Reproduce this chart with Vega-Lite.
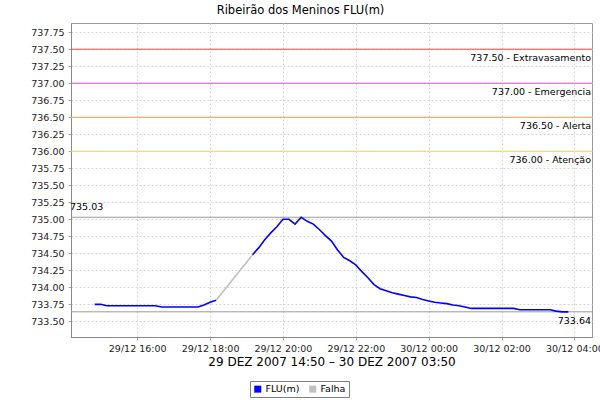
{
  "$schema": "https://vega.github.io/schema/vega-lite/v6.json",
  "width": 521,
  "height": 314,
  "autosize": "none",
  "padding": {"left": 71, "top": 23, "right": 8, "bottom": 63},
  "background": "white",
  "title": {"text": "Ribeirão dos Meninos FLU(m)", "font": "DejaVu Sans", "fontSize": 11.5, "fontWeight": "normal", "color": "#000000", "anchor": "middle", "dx": -31, "offset": 7},
  "config": {
    "view": {"stroke": "#9a9a9a", "strokeWidth": 1},
    "font": "DejaVu Sans",
    "axis": {"gridColor": "#d4d4d4", "gridDash": [2, 2], "gridWidth": 1, "domainColor": "#888888", "tickColor": "#aaaaaa", "tickSize": 3, "labelFont": "DejaVu Sans", "labelFontSize": 9.5, "labelColor": "#222222"}
  },
  "datasets": {
    "serie": [
      {"t": "2007-12-29T14:50:00Z", "v": 733.75, "s": "FLU(m)", "g": 1},
      {"t": "2007-12-29T15:00:00Z", "v": 733.75, "s": "FLU(m)", "g": 1},
      {"t": "2007-12-29T15:10:00Z", "v": 733.73, "s": "FLU(m)", "g": 1},
      {"t": "2007-12-29T15:20:00Z", "v": 733.73, "s": "FLU(m)", "g": 1},
      {"t": "2007-12-29T15:30:00Z", "v": 733.73, "s": "FLU(m)", "g": 1},
      {"t": "2007-12-29T15:40:00Z", "v": 733.73, "s": "FLU(m)", "g": 1},
      {"t": "2007-12-29T15:50:00Z", "v": 733.73, "s": "FLU(m)", "g": 1},
      {"t": "2007-12-29T16:00:00Z", "v": 733.73, "s": "FLU(m)", "g": 1},
      {"t": "2007-12-29T16:10:00Z", "v": 733.73, "s": "FLU(m)", "g": 1},
      {"t": "2007-12-29T16:20:00Z", "v": 733.73, "s": "FLU(m)", "g": 1},
      {"t": "2007-12-29T16:30:00Z", "v": 733.73, "s": "FLU(m)", "g": 1},
      {"t": "2007-12-29T16:40:00Z", "v": 733.71, "s": "FLU(m)", "g": 1},
      {"t": "2007-12-29T16:50:00Z", "v": 733.71, "s": "FLU(m)", "g": 1},
      {"t": "2007-12-29T17:00:00Z", "v": 733.71, "s": "FLU(m)", "g": 1},
      {"t": "2007-12-29T17:10:00Z", "v": 733.71, "s": "FLU(m)", "g": 1},
      {"t": "2007-12-29T17:20:00Z", "v": 733.71, "s": "FLU(m)", "g": 1},
      {"t": "2007-12-29T17:30:00Z", "v": 733.71, "s": "FLU(m)", "g": 1},
      {"t": "2007-12-29T17:40:00Z", "v": 733.71, "s": "FLU(m)", "g": 1},
      {"t": "2007-12-29T17:50:00Z", "v": 733.74, "s": "FLU(m)", "g": 1},
      {"t": "2007-12-29T18:00:00Z", "v": 733.78, "s": "FLU(m)", "g": 1},
      {"t": "2007-12-29T18:10:00Z", "v": 733.81, "s": "FLU(m)", "g": 1},
      {"t": "2007-12-29T18:10:00Z", "v": 733.81, "s": "Falha", "g": 2},
      {"t": "2007-12-29T19:10:00Z", "v": 734.48, "s": "Falha", "g": 2},
      {"t": "2007-12-29T19:10:00Z", "v": 734.48, "s": "FLU(m)", "g": 3},
      {"t": "2007-12-29T19:20:00Z", "v": 734.58, "s": "FLU(m)", "g": 3},
      {"t": "2007-12-29T19:30:00Z", "v": 734.70, "s": "FLU(m)", "g": 3},
      {"t": "2007-12-29T19:40:00Z", "v": 734.80, "s": "FLU(m)", "g": 3},
      {"t": "2007-12-29T19:50:00Z", "v": 734.89, "s": "FLU(m)", "g": 3},
      {"t": "2007-12-29T20:00:00Z", "v": 735.00, "s": "FLU(m)", "g": 3},
      {"t": "2007-12-29T20:10:00Z", "v": 735.00, "s": "FLU(m)", "g": 3},
      {"t": "2007-12-29T20:20:00Z", "v": 734.93, "s": "FLU(m)", "g": 3},
      {"t": "2007-12-29T20:30:00Z", "v": 735.03, "s": "FLU(m)", "g": 3},
      {"t": "2007-12-29T20:40:00Z", "v": 734.97, "s": "FLU(m)", "g": 3},
      {"t": "2007-12-29T20:50:00Z", "v": 734.93, "s": "FLU(m)", "g": 3},
      {"t": "2007-12-29T21:00:00Z", "v": 734.85, "s": "FLU(m)", "g": 3},
      {"t": "2007-12-29T21:10:00Z", "v": 734.76, "s": "FLU(m)", "g": 3},
      {"t": "2007-12-29T21:20:00Z", "v": 734.68, "s": "FLU(m)", "g": 3},
      {"t": "2007-12-29T21:30:00Z", "v": 734.55, "s": "FLU(m)", "g": 3},
      {"t": "2007-12-29T21:40:00Z", "v": 734.44, "s": "FLU(m)", "g": 3},
      {"t": "2007-12-29T21:50:00Z", "v": 734.39, "s": "FLU(m)", "g": 3},
      {"t": "2007-12-29T22:00:00Z", "v": 734.33, "s": "FLU(m)", "g": 3},
      {"t": "2007-12-29T22:10:00Z", "v": 734.23, "s": "FLU(m)", "g": 3},
      {"t": "2007-12-29T22:20:00Z", "v": 734.14, "s": "FLU(m)", "g": 3},
      {"t": "2007-12-29T22:30:00Z", "v": 734.04, "s": "FLU(m)", "g": 3},
      {"t": "2007-12-29T22:40:00Z", "v": 733.98, "s": "FLU(m)", "g": 3},
      {"t": "2007-12-29T22:50:00Z", "v": 733.95, "s": "FLU(m)", "g": 3},
      {"t": "2007-12-29T23:00:00Z", "v": 733.92, "s": "FLU(m)", "g": 3},
      {"t": "2007-12-29T23:10:00Z", "v": 733.90, "s": "FLU(m)", "g": 3},
      {"t": "2007-12-29T23:20:00Z", "v": 733.88, "s": "FLU(m)", "g": 3},
      {"t": "2007-12-29T23:30:00Z", "v": 733.86, "s": "FLU(m)", "g": 3},
      {"t": "2007-12-29T23:40:00Z", "v": 733.85, "s": "FLU(m)", "g": 3},
      {"t": "2007-12-29T23:50:00Z", "v": 733.82, "s": "FLU(m)", "g": 3},
      {"t": "2007-12-30T00:00:00Z", "v": 733.80, "s": "FLU(m)", "g": 3},
      {"t": "2007-12-30T00:10:00Z", "v": 733.78, "s": "FLU(m)", "g": 3},
      {"t": "2007-12-30T00:20:00Z", "v": 733.77, "s": "FLU(m)", "g": 3},
      {"t": "2007-12-30T00:30:00Z", "v": 733.76, "s": "FLU(m)", "g": 3},
      {"t": "2007-12-30T00:40:00Z", "v": 733.74, "s": "FLU(m)", "g": 3},
      {"t": "2007-12-30T00:50:00Z", "v": 733.73, "s": "FLU(m)", "g": 3},
      {"t": "2007-12-30T01:00:00Z", "v": 733.71, "s": "FLU(m)", "g": 3},
      {"t": "2007-12-30T01:10:00Z", "v": 733.69, "s": "FLU(m)", "g": 3},
      {"t": "2007-12-30T01:20:00Z", "v": 733.69, "s": "FLU(m)", "g": 3},
      {"t": "2007-12-30T01:30:00Z", "v": 733.69, "s": "FLU(m)", "g": 3},
      {"t": "2007-12-30T01:40:00Z", "v": 733.69, "s": "FLU(m)", "g": 3},
      {"t": "2007-12-30T01:50:00Z", "v": 733.69, "s": "FLU(m)", "g": 3},
      {"t": "2007-12-30T02:00:00Z", "v": 733.69, "s": "FLU(m)", "g": 3},
      {"t": "2007-12-30T02:10:00Z", "v": 733.69, "s": "FLU(m)", "g": 3},
      {"t": "2007-12-30T02:20:00Z", "v": 733.69, "s": "FLU(m)", "g": 3},
      {"t": "2007-12-30T02:30:00Z", "v": 733.67, "s": "FLU(m)", "g": 3},
      {"t": "2007-12-30T02:40:00Z", "v": 733.67, "s": "FLU(m)", "g": 3},
      {"t": "2007-12-30T02:50:00Z", "v": 733.67, "s": "FLU(m)", "g": 3},
      {"t": "2007-12-30T03:00:00Z", "v": 733.67, "s": "FLU(m)", "g": 3},
      {"t": "2007-12-30T03:10:00Z", "v": 733.67, "s": "FLU(m)", "g": 3},
      {"t": "2007-12-30T03:20:00Z", "v": 733.67, "s": "FLU(m)", "g": 3},
      {"t": "2007-12-30T03:30:00Z", "v": 733.65, "s": "FLU(m)", "g": 3},
      {"t": "2007-12-30T03:40:00Z", "v": 733.64, "s": "FLU(m)", "g": 3},
      {"t": "2007-12-30T03:50:00Z", "v": 733.64, "s": "FLU(m)", "g": 3}
    ],
    "marcas": [
      {"v": 737.5, "k": "Extravasamento", "label": "737.50 - Extravasamento", "side": "right"},
      {"v": 737.0, "k": "Emergencia", "label": "737.00 - Emergencia", "side": "right"},
      {"v": 736.5, "k": "Alerta", "label": "736.50 - Alerta", "side": "right"},
      {"v": 736.0, "k": "Atenção", "label": "736.00 - Atenção", "side": "right"},
      {"v": 735.03, "k": "max", "label": "735.03", "side": "left"},
      {"v": 733.64, "k": "min", "label": "733.64", "side": "right"}
    ]
  },
  "encoding": {
    "y": {
      "field": "v", "type": "quantitative",
      "scale": {"domain": [733.27, 737.885], "nice": false, "zero": false},
      "axis": {
        "title": null, "format": ".2f", "labelPadding": 4,
        "values": [733.5, 733.75, 734, 734.25, 734.5, 734.75, 735, 735.25, 735.5, 735.75, 736, 736.25, 736.5, 736.75, 737, 737.25, 737.5, 737.75]
      }
    }
  },
  "layer": [
    {
      "data": {"name": "marcas"},
      "mark": {"type": "rule", "strokeWidth": 1},
      "encoding": {
        "color": {"field": "k", "type": "nominal", "legend": null,
          "scale": {"domain": ["Extravasamento", "Emergencia", "Alerta", "Atenção", "max", "min"],
                    "range": ["#e34a3f", "#dd4fdd", "#f0a050", "#f3d852", "#999999", "#999999"]}}
      }
    },
    {
      "data": {"name": "marcas"},
      "transform": [{"filter": "datum.side == 'right'"}],
      "mark": {"type": "text", "align": "right", "baseline": "top", "dy": 4, "dx": -1, "font": "DejaVu Sans", "fontSize": 9.5, "fill": "#000000"},
      "encoding": {
        "x": {"value": "width"},
        "text": {"field": "label", "type": "nominal"}
      }
    },
    {
      "data": {"name": "marcas"},
      "transform": [{"filter": "datum.side == 'left'"}],
      "mark": {"type": "text", "align": "left", "baseline": "bottom", "dy": -5, "dx": -1, "font": "DejaVu Sans", "fontSize": 9.5, "fill": "#000000"},
      "encoding": {
        "x": {"value": 0},
        "text": {"field": "label", "type": "nominal"}
      }
    },
    {
      "data": {"name": "serie"},
      "mark": {"type": "line", "strokeWidth": 1.6},
      "encoding": {
        "x": {
          "field": "t", "type": "temporal",
          "scale": {"type": "utc", "domain": [1198937460000, 1198988940000], "nice": false},
          "axis": {
            "title": "29 DEZ 2007 14:50 – 30 DEZ 2007 03:50",
            "titleFont": "DejaVu Sans", "titleFontSize": 12, "titleFontWeight": "normal", "titleColor": "#000000", "titlePadding": 4,
            "format": "%d/%m %H:%M", "labelPadding": 3, "labelFlush": false,
            "values": [1198944000000, 1198951200000, 1198958400000, 1198965600000, 1198972800000, 1198980000000, 1198987200000]
          }
        },
        "detail": {"field": "g", "type": "nominal"},
        "color": {"field": "s", "type": "nominal",
          "scale": {"domain": ["FLU(m)", "Falha"], "range": ["#0000ff", "#c0c0c0"]},
          "legend": {"title": null, "orient": "none", "legendX": 179, "legendY": 358, "direction": "horizontal",
            "strokeColor": "#808080", "padding": 3, "symbolType": "square", "symbolSize": 49, "symbolStrokeWidth": 0,
            "labelFont": "DejaVu Sans", "labelFontSize": 9.5, "labelColor": "#000000", "labelOffset": 3, "columnPadding": 8,
            "encode": {"symbols": {"update": {"fill": {"signal": "datum.value === 'FLU(m)' ? '#0000ff' : '#c0c0c0'"}, "strokeWidth": {"value": 0}}}}}
        }
      }
    }
  ],
  "resolve": {"scale": {"color": "independent"}, "legend": {"color": "independent"}}
}
